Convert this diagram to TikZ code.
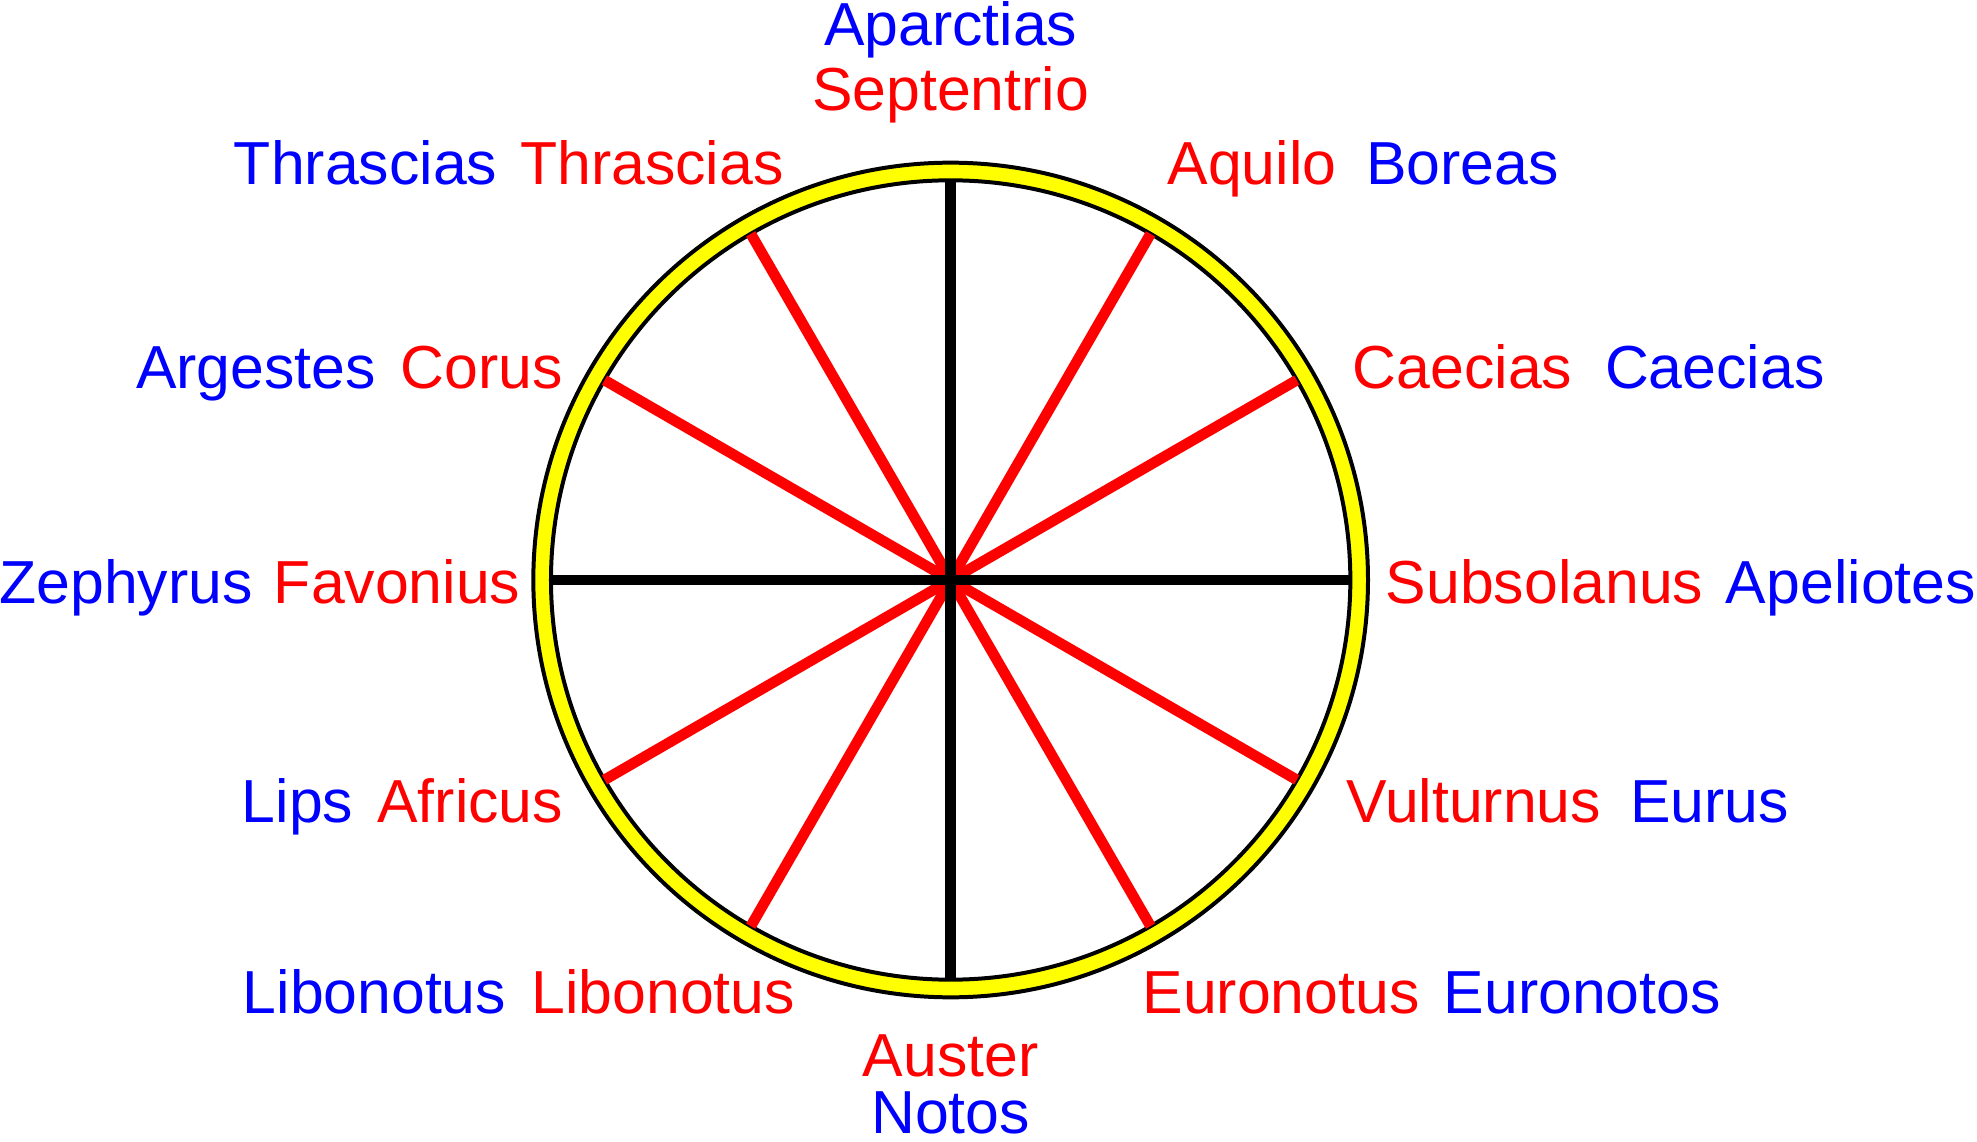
\documentclass[tikz,border=0pt]{standalone}
\usepackage{fontspec}
\setmainfont{Liberation Sans}
\usetikzlibrary{calc}
\definecolor{windblue}{RGB}{0,0,255}
\definecolor{windred}{RGB}{255,0,0}
\definecolor{ringyellow}{RGB}{255,255,0}
\tikzset{
  greek/.style={text=windblue,font=\fontsize{13.7pt}{15pt}\selectfont,inner sep=0pt,anchor=base},
  latin/.style={text=windred,font=\fontsize{13.7pt}{15pt}\selectfont,inner sep=0pt,anchor=base},
  redspoke/.style={windred,line width=2.4pt},
  blackspoke/.style={black,line width=2.4pt}
}
\begin{document}
\begin{tikzpicture}[x=0.01cm,y=-0.01cm]
\useasboundingbox (0,0) rectangle (1568,905);

\coordinate (c) at (754,460);
% yellow ring
\draw[ringyellow,line width=0.12cm] (c) circle[radius=324];
\draw[black,line width=0.9pt] (c) circle[radius=331];
\draw[black,line width=0.9pt] (c) circle[radius=317];

% spokes
\foreach \a in {30,60,120,150,210,240,300,330}
  \draw[redspoke] (c) -- ($(c)+(\a:317)$);
\draw[blackspoke] ($(c)+(0,-317)$) -- ($(c)+(0,317)$);
\draw[blackspoke] ($(c)+(-317,0)$) -- ($(c)+(317,0)$);

% labels
\node[greek] (aparctias) at (754,36) {Aparctias};
\node[latin] (septentrio) at (754,88) {Septentrio};
\node[greek] (thrasciasG) at (290,146) {Thrascias};
\node[latin] (thrasciasL) at (517,146) {Thrascias};
\node[latin] (aquilo) at (993,146) {Aquilo};
\node[greek] (boreas) at (1160,146) {Boreas};
\node[greek] (argestes) at (203,308) {Argestes};
\node[latin] (corus) at (382,308) {Corus};
\node[latin] (caeciasL) at (1160,308) {Caecias};
\node[greek] (caeciasG) at (1360,308) {Caecias};
\node[greek] (zephyrus) at (100,479) {Zephyrus};
\node[latin] (favonius) at (315,479) {Favonius};
\node[latin] (subsolanus) at (1225,479) {Subsolanus};
\node[greek] (apeliotes) at (1468,479) {Apeliotes};
\node[greek] (lips) at (236,652) {Lips};
\node[latin] (africus) at (373,652) {Africus};
\node[latin] (vulturnus) at (1169,652) {Vulturnus};
\node[greek] (eurus) at (1356,652) {Eurus};
\node[greek] (libonotusG) at (297,804) {Libonotus};
\node[latin] (libonotusL) at (526,804) {Libonotus};
\node[latin] (euronotus) at (1016,804) {Euronotus};
\node[greek] (euronotos) at (1255,804) {Euronotos};
\node[latin] (auster) at (754,854) {Auster};
\node[greek] (notos) at (754,899) {Notos};

\end{tikzpicture}
\end{document}
